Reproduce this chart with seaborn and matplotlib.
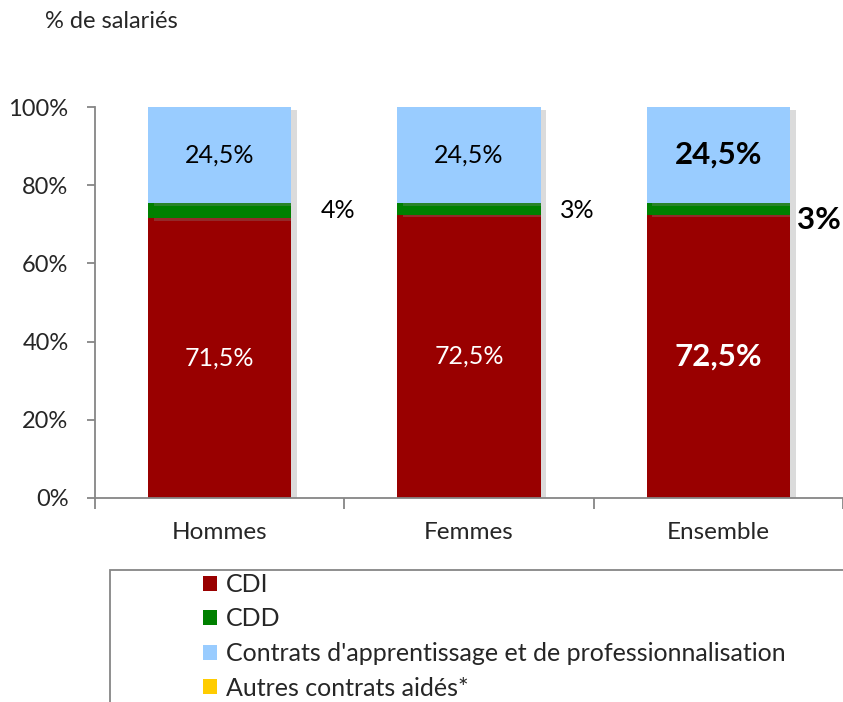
import numpy as np
import pandas as pd
import matplotlib
matplotlib.use("Agg")
import matplotlib.pyplot as plt
import matplotlib.patches as mpatches
import matplotlib.patheffects as pe
import seaborn as sns

# Répartition des salariés par type de contrat (en %)
groupes = ["Hommes", "Femmes", "Ensemble"]
contrats = ["CDI", "CDD", "Contrats d'apprentissage et de professionnalisation",
            "Autres contrats aidés*"]
cdi = [71.5, 72.5, 72.5]
cdd = [4.0, 3.0, 3.0]
apprentissage = [24.5, 24.5, 24.5]
autres = [0.0, 0.0, 0.0]
couleurs = ["#990000", "#008000", "#99CCFF", "#FFCC00"]

valeurs = [cdi, cdd, apprentissage, autres]
df = pd.DataFrame({
    "groupe": [g for _ in contrats for g in groupes],
    "contrat": [c for c in contrats for _ in groupes],
    "valeur": [v / 100 for serie in valeurs for v in serie],
})

sns.set_theme(style="white")
plt.rcParams["font.family"] = ["Lato", "DejaVu Sans"]

fig = plt.figure(figsize=(8.43, 7.02), dpi=100)
ax = fig.add_axes([95 / 843, 1 - 498 / 702, 1 - 95 / 843, 391 / 702])

# histplot stacks the first hue level on top, so CDI goes last
sns.histplot(data=df, x="groupe", weights="valeur", hue="contrat",
             hue_order=contrats[::-1], palette=dict(zip(contrats, couleurs)),
             multiple="stack", discrete=True, shrink=0.575, alpha=1,
             linewidth=0, legend=False, ax=ax)

for p in ax.patches:
    p.set_path_effects([pe.SimplePatchShadow(offset=(4, -2), shadow_rgbFace="#8a8a8a", alpha=0.3),
                        pe.Normal()])

ax.set_xlim(-0.5, 2.5)
ax.set_ylim(0, 1)
ax.set_xlabel("")
ax.set_ylabel("")

gris = "#868686"
for s in ["top", "right"]:
    ax.spines[s].set_visible(False)
for s in ["left", "bottom"]:
    ax.spines[s].set_color(gris)
    ax.spines[s].set_linewidth(1.3)

ax.set_yticks(np.arange(0, 1.01, 0.2))
ax.set_yticklabels([f"{int(round(t * 100))}%" for t in np.arange(0, 1.01, 0.2)], fontsize=17)
ax.tick_params(axis="y", direction="out", length=6, color=gris, width=1.3, left=True, pad=13)

ax.set_xticks([-0.5, 0.5, 1.5, 2.5])
ax.set_xticklabels([])
ax.set_xticks([0, 1, 2], minor=True)
ax.set_xticklabels(groupes, minor=True, fontsize=17.5)
ax.tick_params(axis="x", which="major", direction="out", length=8, color=gris, width=1.3, bottom=True)
ax.tick_params(axis="x", which="minor", length=0, pad=17)

# Étiquettes de valeurs (les CDD sont placées à droite des barres)
decalage_cdd = [0.474, 0.434, 0.405]
baisse_cdd = [0.0, -0.005, -0.03]
for i, g in enumerate(groupes):
    gras = g == "Ensemble"
    fw = "bold" if gras else "normal"
    fs = 22.5 if gras else 18
    ax.text(i, cdi[i] / 200, f"{cdi[i]:.1f}%".replace(".", ","), ha="center", va="center",
            color="white", fontsize=fs, fontweight=fw)
    haut = (cdi[i] + cdd[i]) / 100
    ax.text(i, haut + apprentissage[i] / 200, f"{apprentissage[i]:.1f}%".replace(".", ","),
            ha="center", va="center", color="black", fontsize=fs, fontweight=fw)
    y_cdd = (cdi[i] + cdd[i] / 2) / 100 + baisse_cdd[i]
    ax.text(i + decalage_cdd[i], y_cdd, f"{cdd[i]:.0f}%", ha="center", va="center",
            color="black", fontsize=fs, fontweight=fw)

fig.text(45 / 843, 1 - 22 / 702, "% de salariés", ha="left", va="center", fontsize=17)

# Cadre de la légende
fig.add_artist(mpatches.Rectangle((110 / 843, -0.1), 1.0, 0.1 + 1 - 570 / 702,
                                  transform=fig.transFigure, fill=False,
                                  edgecolor=gris, linewidth=1.3, clip_on=False))
handles = [mpatches.Patch(facecolor=c, edgecolor="none") for c in couleurs]
fig.legend(handles, contrats, loc="upper left", bbox_to_anchor=(203 / 843, 1 - 573 / 702),
           frameon=False, fontsize=18, handlelength=0.55, handleheight=0.55,
           handletextpad=0.36, labelspacing=0.46, borderaxespad=0, borderpad=0)

fig.savefig("out.png", dpi=100)
